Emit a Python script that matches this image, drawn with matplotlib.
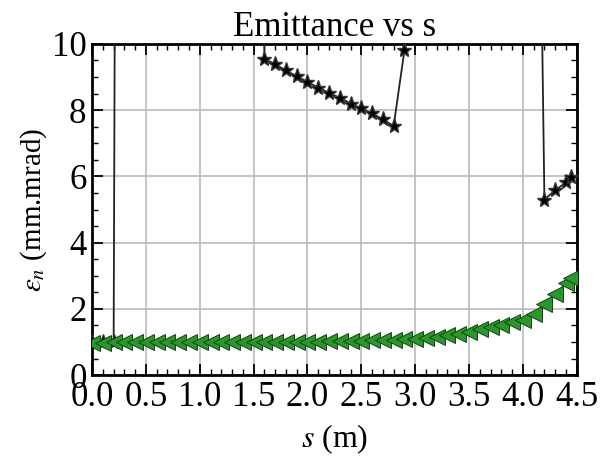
import numpy as np
import matplotlib
matplotlib.use("Agg")
import matplotlib.pyplot as plt
from matplotlib.ticker import MultipleLocator

# positions along the beamline (m)
s = [round(0.1 * i, 2) for i in range(45)] + [4.45]

# normalised emittance, green (mm.mrad)
eps_green = [0.97, 0.98, 0.99, 0.99, 1.0, 1.0, 1.0, 1.0, 1.0, 1.0,
             1.0, 1.0, 1.0, 1.0, 1.0, 1.0, 1.0, 1.0, 1.0, 1.0,
             1.01, 1.01, 1.02, 1.02, 1.03, 1.04, 1.05, 1.06, 1.07, 1.08,
             1.10, 1.13, 1.16, 1.20, 1.25, 1.30, 1.38, 1.46, 1.53, 1.60,
             1.68, 1.85, 2.15, 2.45, 2.78, 2.92]

# normalised emittance, black stars (mm.mrad) - large values run off the plot
eps_black = [1.0, 1.0, 1.0,
             95, 160, 240, 310, 350, 380, 390, 370, 330, 260, 180, 110, 60,
             9.55, 9.38, 9.2, 9.02, 8.85, 8.68, 8.52, 8.37, 8.2, 8.05, 7.9, 7.72, 7.52,
             9.8,
             45, 80, 120, 150, 170, 175, 165, 140, 110, 80, 50, 29,
             5.3, 5.58, 5.82, 5.97]

plt.rcParams['font.family'] = ['Liberation Serif', 'DejaVu Serif']
plt.rcParams['mathtext.fontset'] = 'stix'

fig = plt.figure(figsize=(6.02, 4.57), dpi=100)
ax = fig.add_axes([0.153, 0.179, 0.805, 0.725])

ax.plot(s, eps_black, color='#222222', lw=1.3, marker='*', markersize=11,
        markerfacecolor='black', markeredgecolor='#333333', zorder=3)
ax.plot(s, eps_green, color='#2a8a2a', lw=1.0, marker='<', markersize=11,
        markerfacecolor='#2b962b', markeredgecolor='#124412', markeredgewidth=0.7,
        zorder=4)

ax.set_xlim(0, 4.5)
ax.set_ylim(0, 10)
ax.xaxis.set_major_locator(MultipleLocator(0.5))
ax.xaxis.set_minor_locator(MultipleLocator(0.1))
ax.yaxis.set_major_locator(MultipleLocator(2))
ax.yaxis.set_minor_locator(MultipleLocator(0.5))
ax.xaxis.set_major_formatter(matplotlib.ticker.FormatStrFormatter('%.1f'))

ax.tick_params(which='both', direction='in', top=True, right=True, labelsize=25)
ax.tick_params(which='major', length=8, width=1.3, pad=4)
ax.tick_params(which='minor', length=4, width=1.0)
for sp in ax.spines.values():
    sp.set_linewidth(2)

ax.grid(True, which='major', color='#bbbbbb', lw=1.2)
ax.set_axisbelow(True)

ax.set_title("Emittance vs s", fontsize=25, pad=6)
ax.set_xlabel("$s$ (m)", fontsize=23, labelpad=6)
ax.set_ylabel(r"$\epsilon_n$ (mm.mrad)", fontsize=21, labelpad=2)

plt.savefig("out.png", dpi=100)
